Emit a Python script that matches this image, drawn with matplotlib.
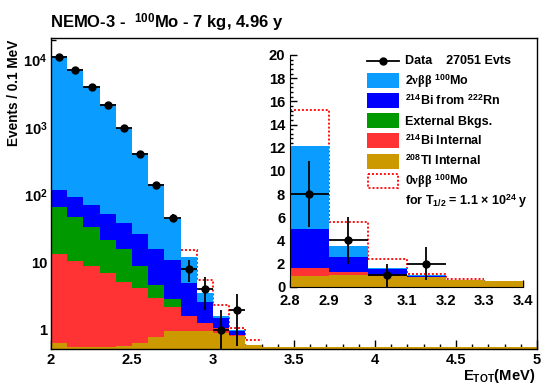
"""
NEMO-3 100Mo total electron energy spectrum above 2 MeV:
data vs. stacked MC (2nu signal + backgrounds), log scale with a
linear zoom of the 0nu region.
"""

import numpy as np
import matplotlib
matplotlib.use("Agg")
import matplotlib.pyplot as plt
from matplotlib.patches import Rectangle
from matplotlib.lines import Line2D
from matplotlib.ticker import (FixedLocator, FixedFormatter, MultipleLocator,
                               FormatStrFormatter, LogLocator, NullFormatter)

# ── data: events / 0.1 MeV, bins from 2.0 to 5.0 MeV ───────────────
E_MIN, E_MAX, N_BINS = 2.0, 5.0, 30

TL208_INT = [0.64, 0.56, 0.56, 0.56, 0.57, 0.65, 0.78, 0.95, 0.95, 0.97,
             0.90, 0.80, 0.60, 0.52, 0.45, 0.40, 0.35, 0.30, 0.25, 0.20,
             0.16, 0.13, 0.10, 0.08, 0.06, 0.05, 0.04, 0.03, 0.02, 0.01]
BI214_INT = [12.8, 10.0, 8.3, 6.3, 4.6, 3.5, 2.2, 1.25, 0.64, 0.28,
             0.15, 0.05] + [0.0] * 18
EXTERNAL  = [53.6, 36.2, 24.1, 14.6, 10.5, 4.75, 1.6, 0.65, 0.02] + [0.0] * 21
BI214_RN  = [52.0, 45.0, 38.0, 30.5, 22.3, 17.5, 11.1, 8.05, 3.37, 1.3,
             0.45, 0.10] + [0.0] * 18
TWO_NU    = [11480, 7310, 4080, 2180, 940, 390, 129, 33.0, 7.2, 0.95,
             0.10, 0.05] + [0.0] * 18
ZERO_NU   = [0.0] * 8 + [3.1, 2.05, 0.77, 0.07, 0.10] + [0.0] * 17

DATA_X = [2.05, 2.15, 2.25, 2.35, 2.45, 2.55, 2.65, 2.75, 2.85, 2.95, 3.05, 3.15]
DATA_Y = [11200, 7110, 4020, 2150, 973, 405, 141, 46, 8, 4, 1, 2]

# ── style ────────────────────────────────────────────────────────────
FONT = "Liberation Sans"
C_2NU   = "#0a9cff"
C_RN    = "#0000ff"
C_EXT   = "#009900"
C_BIINT = "#ff3333"
C_TL    = "#cc9900"
C_0NU   = "#ff0000"
Y_MIN, Y_MAX = 0.53, 2.1e4

plt.rcParams["font.family"] = FONT
plt.rcParams["font.weight"] = "bold"
plt.rcParams["mathtext.fontset"] = "custom"
plt.rcParams["mathtext.rm"] = FONT + ":bold"
plt.rcParams["mathtext.bf"] = FONT + ":bold"
plt.rcParams["mathtext.it"] = "Liberation Serif"


def stack_levels():
    # cumulative tops, drawn back to front: total first, Tl last
    comps = [TL208_INT, BI214_INT, EXTERNAL, BI214_RN, TWO_NU]
    cols = [C_TL, C_BIINT, C_EXT, C_RN, C_2NU]
    cum = np.cumsum(np.array(comps, dtype=float), axis=0)
    return list(zip(cum[::-1], cols[::-1]))


def draw_stack(ax, edges, baseline, clip=None):
    levels = stack_levels()
    total = levels[0][0]
    sig = np.array(ZERO_NU)
    nz = np.nonzero(sig)[0]
    lo, hi = nz[0], nz[-1] + 1
    ax.stairs((total + sig)[lo:hi], edges[lo:hi + 1], baseline=None,
              color=C_0NU, lw=1.3, linestyle=(0, (1.1, 1.1)), zorder=1)
    for vals, col in levels:
        if clip is not None:
            vals = np.maximum(vals, clip)
        ax.stairs(vals, edges, baseline=baseline, fill=True,
                  color=col, lw=0, zorder=2)
    y = np.array(DATA_Y, dtype=float)
    ax.errorbar(DATA_X, y, xerr=0.05, yerr=np.sqrt(y), fmt="o", color="k",
                ms=5.0, elinewidth=1.3, capsize=0, zorder=5)


def main():
    fig = plt.figure(figsize=(5.42, 3.88), dpi=100)
    W, H = 542.0, 388.0
    edges = np.linspace(E_MIN, E_MAX, N_BINS + 1)

    # ── main log-scale panel ────────────────────────────────────────
    ax = fig.add_axes([51 / W, 1 - 348.5 / H, 486 / W, 310.2 / H])
    ax.set_yscale("log")
    draw_stack(ax, edges, baseline=1e-3, clip=Y_MIN * 1.04)
    ax.set_xlim(E_MIN, E_MAX)
    ax.set_ylim(Y_MIN, Y_MAX)
    ax.xaxis.set_major_locator(MultipleLocator(0.5))
    ax.xaxis.set_minor_locator(MultipleLocator(0.1))
    ax.xaxis.set_major_formatter(FormatStrFormatter("%g"))
    ax.yaxis.set_major_locator(FixedLocator([1, 10, 100, 1000, 10000]))
    ax.yaxis.set_major_formatter(FixedFormatter(
        ["1", "10", "$10^{2}$", "$10^{3}$", "$10^{4}$"]))
    ax.yaxis.set_minor_locator(LogLocator(base=10, subs=np.arange(2, 10)))
    ax.yaxis.set_minor_formatter(NullFormatter())
    ax.tick_params(which="both", direction="in", top=False, right=False,
                   labelsize=10.6, width=1.0)
    ax.tick_params(which="major", length=6.5)
    ax.tick_params(which="minor", length=3.4)
    ax.tick_params(axis="x", pad=3)
    ax.tick_params(axis="y", pad=2.5)
    for sp in ax.spines.values():
        sp.set_linewidth(1.0)

    # ── linear zoom on the 0nu window ───────────────────────────────
    ins = fig.add_axes([290 / W, 1 - 286.7 / H, 233.3 / W, 231.7 / H])
    ins.patch.set_alpha(0)
    draw_stack(ins, edges, baseline=0)
    ins.set_xlim(2.8, 3.4)
    ins.set_ylim(0, 20)
    ins.xaxis.set_major_locator(MultipleLocator(0.1))
    ins.xaxis.set_minor_locator(MultipleLocator(0.02))
    ins.xaxis.set_major_formatter(FormatStrFormatter("%g"))
    ins.yaxis.set_major_locator(MultipleLocator(2))
    ins.yaxis.set_minor_locator(MultipleLocator(0.4))
    ins.spines["top"].set_visible(False)
    ins.spines["right"].set_visible(False)
    ins.tick_params(which="both", direction="in", top=False, right=False,
                    labelsize=10.6, width=1.0)
    ins.tick_params(which="major", length=5)
    ins.tick_params(which="minor", length=2.5)
    ins.tick_params(axis="x", pad=5.5)
    ins.tick_params(axis="y", pad=3.5)

    # ── titles ──────────────────────────────────────────────────────
    fig.text(50 / W, 1 - 28 / H, r"NEMO-3 -  $^{100}$Mo - 7 kg, 4.96 y",
             fontsize=12, ha="left", va="baseline")
    fig.text(14 / W, 1 - 40 / H, "Events / 0.1 MeV", fontsize=9.8,
             rotation=90, ha="center", va="top")
    fig.text(535 / W, 1 - 380 / H, r"E$_{\mathrm{TOT}}$(MeV)", fontsize=10.6,
             ha="right", va="baseline")

    # ── legend, laid out in pixel coordinates ───────────────────────
    lax = fig.add_axes([0, 0, 1, 1])
    lax.set_xlim(0, W)
    lax.set_ylim(H, 0)
    lax.axis("off")
    entries = [
        ("data", None, "Data    27051 Evts"),
        ("fill", C_2NU, r"2$\nu\beta\beta$ $^{100}$Mo"),
        ("fill", C_RN, r"$^{214}$Bi from $^{222}$Rn"),
        ("fill", C_EXT, "External Bkgs."),
        ("fill", C_BIINT, r"$^{214}$Bi Internal"),
        ("fill", C_TL, r"$^{208}$Tl Internal"),
        ("line", C_0NU, r"0$\nu\beta\beta$ $^{100}$Mo"),
        ("none", None, r"for T$_{\mathrm{1/2}}$ = 1.1 $\times$ 10$^{24}$ y"),
    ]
    x0, x1, tx = 367, 399, 405
    for i, (kind, col, label) in enumerate(entries):
        yc = 60.5 + 20.1 * i
        if kind == "data":
            lax.add_line(Line2D([x0, x1], [yc, yc], color="k", lw=1.3))
            lax.plot([(x0 + x1) / 2], [yc], "o", color="k", ms=5.0)
        elif kind == "fill":
            lax.add_patch(Rectangle((x0, yc - 7.5), x1 - x0, 15,
                                    facecolor=col, edgecolor="none"))
        elif kind == "line":
            lax.add_patch(Rectangle((x0 + 0.7, yc - 6.8), x1 - x0 - 1.4, 13.6,
                                    facecolor="none", edgecolor=col, lw=1.3,
                                    linestyle=(0, (1.1, 1.1))))
        lax.text(tx, yc + 4, label, fontsize=9, ha="left", va="baseline")

    fig.savefig("out.png", dpi=100)
    plt.close(fig)


if __name__ == "__main__":
    main()
